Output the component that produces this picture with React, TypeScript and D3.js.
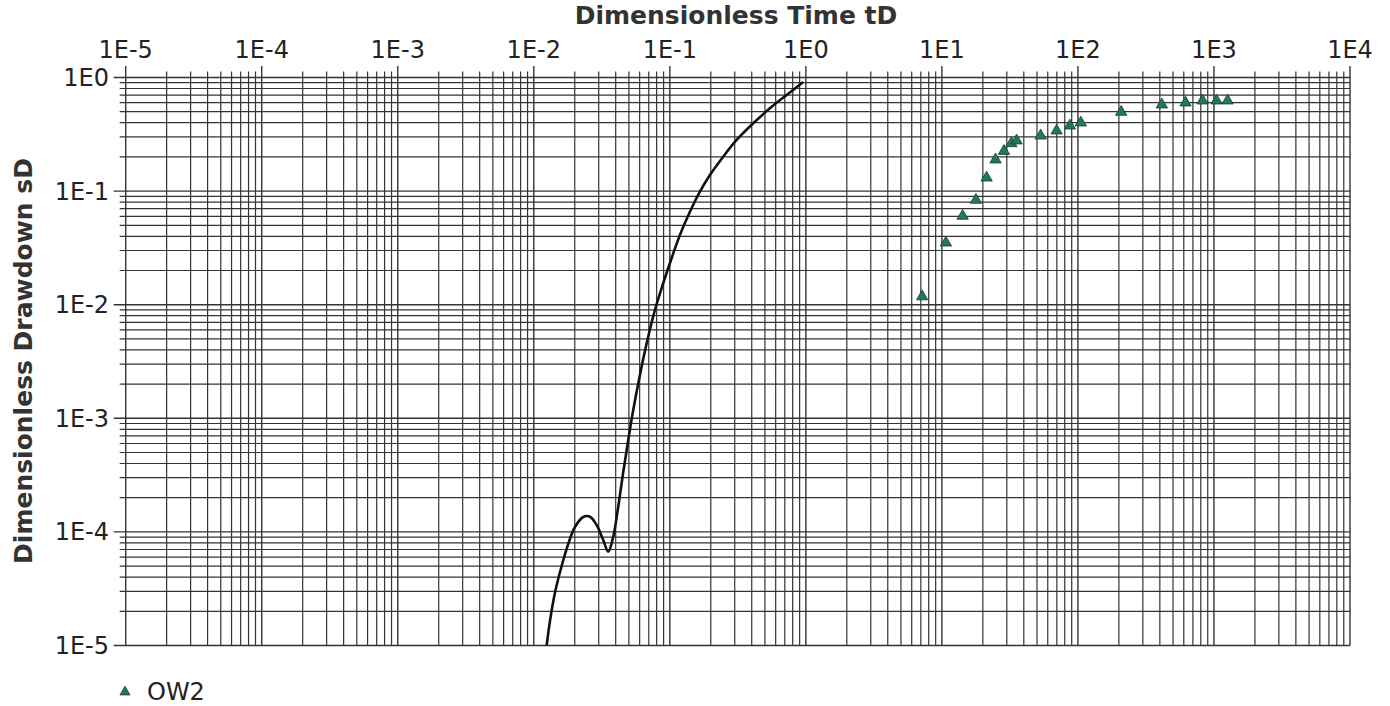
import React from "react";
import * as d3 from "d3";

// Dimensionless time tD decades (x) and dimensionless drawdown sD decades (y)
const xExponents = [-5, -4, -3, -2, -1, 0, 1, 2, 3, 4];
const yExponents = [-5, -4, -3, -2, -1, 0];
const xTickLabels = ["1E-5", "1E-4", "1E-3", "1E-2", "1E-1", "1E0", "1E1", "1E2", "1E3", "1E4"];
const yTickLabels = ["1E-5", "1E-4", "1E-3", "1E-2", "1E-1", "1E0"];

// Type curve: tD and sD
const typeCurveT = [
  0.01218, 0.01243, 0.01315, 0.01429, 0.01602, 0.01791, 0.02007, 0.02309, 0.02586, 0.02897,
  0.0324, 0.03525, 0.03837, 0.04175, 0.04545, 0.04946, 0.05383, 0.06029, 0.06788, 0.0777,
  0.089, 0.1002, 0.1186, 0.1405, 0.1664, 0.1971, 0.2469, 0.3097, 0.4102, 0.5439,
  0.7221, 0.9561,
];
const typeCurveS = [
  8.09e-6, 1e-5, 1.643e-5, 2.9e-5, 5.01e-5, 7.83e-5, 1.104e-4, 1.352e-4, 1.361e-4, 1.15e-4,
  8.49e-5, 6.69e-5, 9.07e-5, 1.667e-4, 3.37e-4, 6.44e-4, 1.183e-3, 2.405e-3, 4.69e-3, 8.98e-3,
  0.01521, 0.02328, 0.04108, 0.0659, 0.0988, 0.1386, 0.2009, 0.2818, 0.3952, 0.5356,
  0.7015, 0.913,
];

// Observation well OW2
const ow2T = [7.16, 10.7, 14.2, 17.8, 21.3, 24.8, 28.6, 32.4, 35.4, 53.2, 69.7, 87.3, 105, 208, 414, 618, 824, 1045, 1259];
const ow2S = [0.0118, 0.0351, 0.0604, 0.0835, 0.131, 0.189, 0.225, 0.263, 0.278, 0.307, 0.34, 0.376, 0.4, 0.497, 0.576, 0.6, 0.625, 0.625, 0.625];

const W = 1390;
const H = 706;
const FONT = "'DejaVu Sans', Verdana, sans-serif";
const GRID = "#333";
const GREEN = "#1f7a5a";

export default function App() {
  const x = d3.scaleLog().domain([1e-5, 1e4]).range([125.7, 1350]);
  const y = d3.scaleLog().domain([1e-5, 1]).range([645.5, 77.5]);

  const [x0, x1] = x.range();
  const [y0, y1] = y.range();

  const xMinor: number[] = [];
  xExponents.slice(0, -1).forEach((e) => {
    for (let k = 2; k <= 9; k++) xMinor.push(k * Math.pow(10, e));
  });
  const yMinor: number[] = [];
  yExponents.slice(0, -1).forEach((e) => {
    for (let k = 2; k <= 9; k++) yMinor.push(k * Math.pow(10, e));
  });

  const curvePts = typeCurveT.map((t, i) => [t, typeCurveS[i]] as [number, number]);
  const line = d3
    .line<[number, number]>()
    .x((d) => x(d[0]))
    .y((d) => y(d[1]))
    .curve(d3.curveCatmullRom.alpha(0.5));

  const tri = d3.symbol().type(d3.symbolTriangle).size(56)();
  const legendTri = d3.symbol().type(d3.symbolTriangle).size(44)();

  return (
    <svg
      width={W}
      height={H}
      style={{ position: "absolute", left: 0, top: 0, background: "#fff" }}
      fontFamily={FONT}
    >
      <defs>
        <clipPath id="plotClip">
          <rect x={x0} y={y1 - 2} width={x1 - x0} height={y0 - y1 + 2} />
        </clipPath>
      </defs>

      {/* minor grid */}
      <g stroke={GRID} strokeWidth={1.2}>
        {xMinor.map((v) => (
          <line key={"xm" + v} x1={x(v)} x2={x(v)} y1={y0} y2={y1 - 6} />
        ))}
        {yMinor.map((v) => (
          <line key={"ym" + v} x1={x0 - 6} x2={x1} y1={y(v)} y2={y(v)} />
        ))}
      </g>
      {/* major grid */}
      <g stroke={GRID} strokeWidth={1.4}>
        {xExponents.map((e) => {
          const v = Math.pow(10, e);
          return <line key={"xM" + e} x1={x(v)} x2={x(v)} y1={y0} y2={y1 - 11.5} />;
        })}
        {yExponents.map((e) => {
          const v = Math.pow(10, e);
          return <line key={"yM" + e} x1={x0 - 12} x2={x1} y1={y(v)} y2={y(v)} />;
        })}
      </g>

      {/* tick labels */}
      <g fontSize={24} fill="#222">
        {xExponents.map((e, i) => (
          <text key={"xl" + e} x={x(Math.pow(10, e))} y={58} textAnchor="middle">
            {xTickLabels[i]}
          </text>
        ))}
        {yExponents.map((e, i) => (
          <text key={"yl" + e} x={109} y={y(Math.pow(10, e)) + 8.5} textAnchor="end">
            {yTickLabels[i]}
          </text>
        ))}
      </g>

      {/* axis titles */}
      <text x={736} y={24} textAnchor="middle" fontSize={25} fontWeight="bold" fill="#333">
        Dimensionless Time tD
      </text>
      <text
        transform={`translate(32,361) rotate(-90)`}
        textAnchor="middle"
        fontSize={25}
        fontWeight="bold"
        fill="#333"
      >
        Dimensionless Drawdown sD
      </text>

      {/* type curve */}
      <path
        d={line(curvePts) || ""}
        fill="none"
        stroke="#111"
        strokeWidth={2.6}
        strokeLinejoin="round"
        clipPath="url(#plotClip)"
      />

      {/* OW2 observations */}
      <g fill={GREEN} stroke="#1b3b30" strokeWidth={0.8}>
        {ow2T.map((t, i) => (
          <path key={"p" + i} d={tri || ""} transform={`translate(${x(t)},${y(ow2S[i])})`} />
        ))}
      </g>

      {/* legend */}
      <g>
        <path d={legendTri || ""} transform="translate(125,692)" fill={GREEN} stroke="#1b3b30" strokeWidth={0.8} />
        <text x={147} y={700} fontSize={24} fill="#222">
          OW2
        </text>
      </g>
    </svg>
  );
}
